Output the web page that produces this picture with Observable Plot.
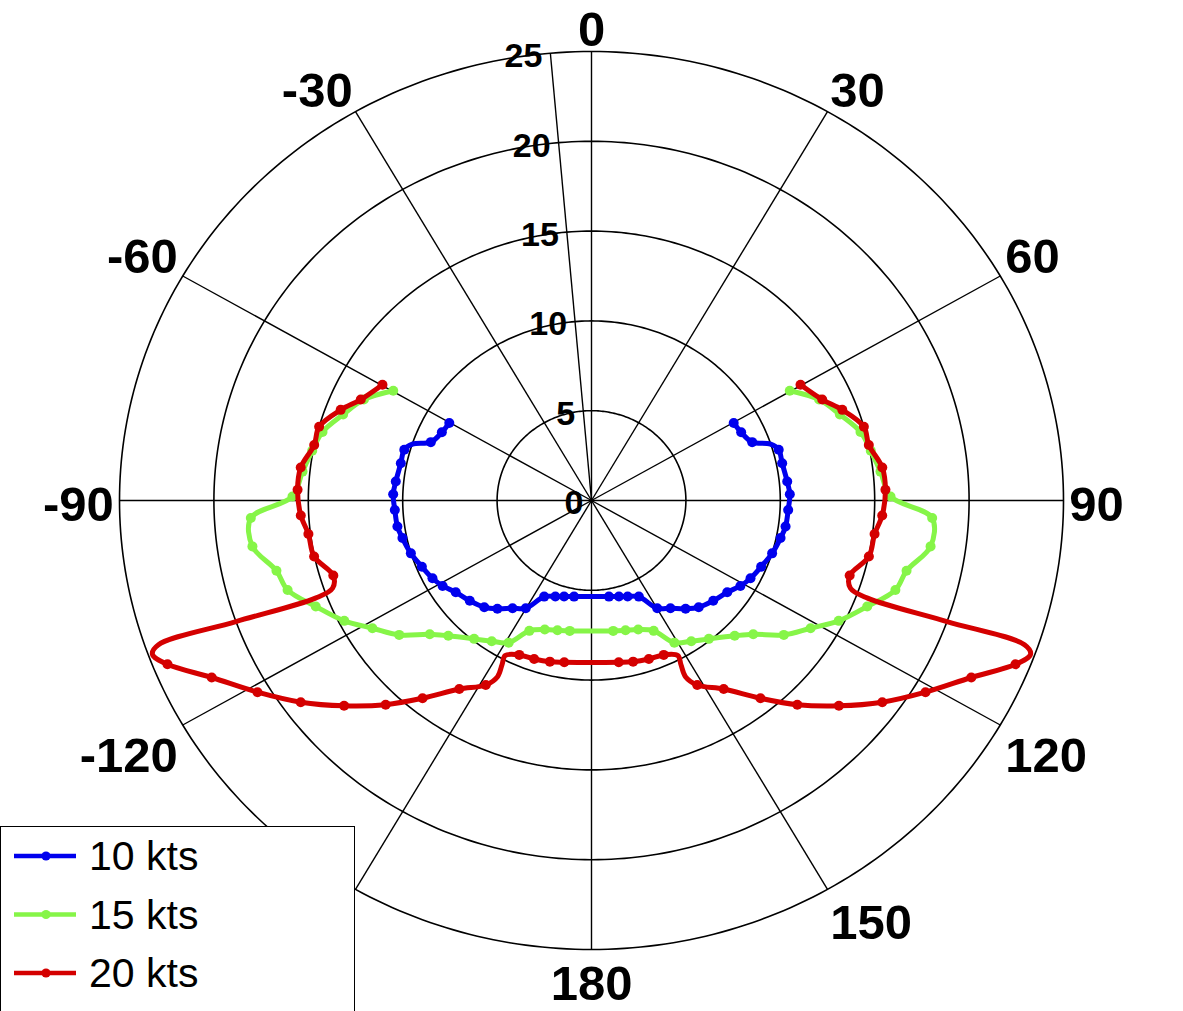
<!DOCTYPE html>
<html>
<head>
<meta charset="utf-8">
<script src="https://cdn.jsdelivr.net/npm/d3@7"></script>
<script src="https://cdn.jsdelivr.net/npm/@observablehq/plot@0.6"></script>
<style>
  html, body { margin: 0; padding: 0; background: #fff; overflow: hidden; }
  #wrap { position: relative; width: 1183px; height: 1011px; }
  #legend { position: absolute; left: 0; top: 826px; width: 355px; height: 200px;
            border: 1.4px solid #000; background: #fff; box-sizing: border-box; }
</style>
</head>
<body>
<div id="wrap"><div id="chart"></div><div id="legend"></div></div>
<script>
// ---- data: [angle (deg), boat speed (kts), marker 1/0] ----
const angleTicks = [0, 30, 60, 90, 120, 150, 180, -150, -120, -90, -60, -30];
const ringTicks = [0, 5, 10, 15, 20, 25];
const seriesNames = ["10 kts", "15 kts", "20 kts"];

const tws10Starboard = [
  [60.2,8.68,1],[64.4,8.79,1],[69.1,9.11,1],[71.7,9.99,0],[74.1,10.31,1],[78.4,10.31,1],
  [84.2,10.42,1],[88.1,10.51,1],[92.9,10.43,1],[98.0,10.38,1],[101.8,10.23,1],[107.1,10.01,1],
  [112.3,9.71,1],[117.2,9.47,1],[121.1,9.21,1],[125.4,8.82,1],[130.9,8.53,1],[136.3,8.22,1],
  [140.4,7.82,1],[145.1,7.31,1],[149.9,6.94,1],[154.9,5.91,1],[160.3,5.68,1],[164.8,5.54,1],
  [170.2,5.43,1]
];
const tws10Port = [
  [-60.2,8.68,1],[-64.4,8.79,1],[-69.1,9.11,1],[-71.7,9.99,0],[-74.1,10.31,1],[-78.4,10.31,1],
  [-84.2,10.42,1],[-88.1,10.51,1],[-92.9,10.43,1],[-98.0,10.38,1],[-101.8,10.23,1],[-107.1,10.01,1],
  [-112.3,9.71,1],[-117.2,9.47,1],[-121.1,9.21,1],[-125.4,8.82,1],[-130.9,8.53,1],[-136.3,8.22,1],
  [-140.4,7.82,1],[-145.1,7.31,1],[-149.9,6.94,1],[-154.9,5.91,1],[-160.3,5.68,1],[-164.8,5.54,1],
  [-170.2,5.43,1]
];

const tws15Starboard = [
  [59.8,12.15,1],[65.0,13.3,1],[70.0,14.0,1],[75.0,14.75,1],[79.4,15.05,1],[84.0,15.39,1],
  [89.2,15.84,1],[93.1,18.07,1],[98.1,18.14,1],[103.2,17.14,1],[107.2,16.85,1],[112.0,15.75,1],
  [117.1,14.71,1],[121.5,13.61,1],[126.3,12.64,1],[131.0,11.35,1],[134.8,10.69,1],[141.1,9.9,1],
  [146.0,9.45,1],[151.0,9.05,1],[155.6,7.97,1],[161.0,7.60,1],[166.0,7.45,1],[171.0,7.35,1]
];
const tws15Port = [
  [-59.8,12.15,1],[-65.0,13.3,1],[-70.0,14.0,1],[-75.0,14.75,1],[-79.4,15.05,1],[-84.0,15.39,1],
  [-89.2,15.84,1],[-93.1,18.07,1],[-98.1,18.14,1],[-103.2,17.14,1],[-107.2,16.85,1],[-112.0,15.75,1],
  [-117.1,14.71,1],[-121.5,13.61,1],[-126.3,12.64,1],[-131.0,11.35,1],[-134.8,10.69,1],[-141.1,9.9,1],
  [-146.0,9.45,1],[-151.0,9.05,1],[-155.6,7.97,1],[-161.0,7.60,1],[-166.0,7.45,1],[-171.0,7.35,1]
];

const tws20Starboard = [
  [59.8,12.81,1],[65.3,13.45,1],[69.2,14.21,1],[74.1,15.0,1],[78.1,15.01,1],[83.2,15.51,1],
  [87.8,15.58,1],[93.1,15.42,1],[97.1,15.11,1],[102.0,15.02,1],[107.0,14.30,1],
  [109.6,14.56,0],[110.4,15.6,0],[109.7,20.0,0],[109.3,24.3,0],[110.2,24.78,0],
  [112.1,24.24,1],[116.1,22.40,1],[121.1,20.66,1],[126.1,19.06,1],[131.1,17.39,1],
  [136.2,15.75,1],[140.9,14.19,1],[146.3,12.62,1],[151.4,11.70,1],
  [153.1,11.0,0],[152.6,10.3,0],[152.1,9.77,0],
  [156.0,9.41,1],[161.0,9.33,1],[166.2,9.24,1],[170.9,9.12,1]
];
const tws20Port = [
  [-59.8,12.81,1],[-65.3,13.45,1],[-69.2,14.21,1],[-74.1,15.0,1],[-78.1,15.01,1],[-83.2,15.51,1],
  [-87.8,15.58,1],[-93.1,15.42,1],[-97.1,15.11,1],[-102.0,15.02,1],[-107.0,14.30,1],
  [-109.6,14.56,0],[-110.4,15.6,0],[-109.7,20.0,0],[-109.3,24.3,0],[-110.2,24.78,0],
  [-112.1,24.24,1],[-116.1,22.40,1],[-121.1,20.66,1],[-126.1,19.06,1],[-131.1,17.39,1],
  [-136.2,15.75,1],[-140.9,14.19,1],[-146.3,12.62,1],[-151.4,11.70,1],
  [-153.1,11.0,0],[-152.6,10.3,0],[-152.1,9.77,0],
  [-156.0,9.41,1],[-161.0,9.33,1],[-166.2,9.24,1],[-170.9,9.12,1]
];

// ---- styling ----
const colors = ["#0000ee", "#86f548", "#d40000"];
const rad = Math.PI / 180;
const rMax = 25;
const labelRadius = 25.3;
const labelSpokeAngle = -5;
const font = "Liberation Sans, Arial, sans-serif";

const toRows = (arr, name) => arr.map(([angle, speed, marker]) => ({angle, speed, marker, name}));
const seriesRows = [
  toRows(tws10Port, seriesNames[0]).concat(toRows(tws10Starboard, seriesNames[0]).reverse()),
  toRows(tws15Port, seriesNames[1]).concat(toRows(tws15Starboard, seriesNames[1]).reverse()),
  toRows(tws20Port, seriesNames[2]).concat(toRows(tws20Starboard, seriesNames[2]).reverse())
];
const px = d => d.speed * Math.sin(d.angle * rad);
const py = d => d.speed * Math.cos(d.angle * rad);

const ringRows = ringTicks.filter(r => r > 0).flatMap(r =>
  d3.range(0, 361, 1).map(t => ({r, t})));

const spokes = d3.range(-150, 181, 30);

const marks = [
  Plot.line(ringRows, {x: d => d.r * Math.sin(d.t * rad), y: d => d.r * Math.cos(d.t * rad), z: "r",
    stroke: "#000", strokeWidth: 1.6}),
  Plot.link(spokes, {x1: 0, y1: 0, x2: a => rMax * Math.sin(a * rad), y2: a => rMax * Math.cos(a * rad),
    stroke: "#000", strokeWidth: 1.4}),
  Plot.link([labelSpokeAngle], {x1: 0, y1: 0, x2: a => rMax * Math.sin(a * rad), y2: a => rMax * Math.cos(a * rad),
    stroke: "#000", strokeWidth: 1.4}),
  Plot.text(ringTicks, {x: r => r * Math.sin(labelSpokeAngle * rad), y: r => r * Math.cos(labelSpokeAngle * rad),
    text: r => String(r), textAnchor: "end", dx: -8, dy: 3, fontSize: 34, fontWeight: "bold",
    fontFamily: font, fill: "#000"})
];

// angle labels: aligned away from the circle, as in the reference
const side = v => (v > 0.01 ? 1 : v < -0.01 ? -1 : 0);
angleTicks.forEach(a => {
  const sx = side(Math.sin(a * rad)), sy = side(Math.cos(a * rad));
  marks.push(Plot.text([a], {
    x: d => labelRadius * Math.sin(d * rad), y: d => labelRadius * Math.cos(d * rad),
    text: d => String(d),
    textAnchor: sx > 0 ? "start" : sx < 0 ? "end" : "middle",
    lineAnchor: sy > 0 ? "bottom" : sy < 0 ? "top" : "middle",
    dy: sy > 0 ? 0 : sy < 0 ? 10 : 5,
    fontSize: 49, fontWeight: "bold", fontFamily: font, fill: "#000"
  }));
});

seriesRows.forEach((rows, i) => {
  marks.push(Plot.line(rows, {x: px, y: py, stroke: colors[i], strokeWidth: 5, curve: "catmull-rom"}));
  marks.push(Plot.dot(rows.filter(d => d.marker), {x: px, y: py, r: 5, fill: colors[i], stroke: "none"}));
});

const chart = Plot.plot({
  width: 1183, height: 1011,
  marginLeft: 119, marginRight: 120, marginTop: 51, marginBottom: 62,
  x: {domain: [-rMax, rMax], axis: null},
  y: {domain: [-rMax, rMax], axis: null},
  style: {background: "#fff", overflow: "visible"},
  marks
});
document.getElementById("chart").appendChild(chart);

// ---- legend ----
const ns = "http://www.w3.org/2000/svg";
const lg = document.createElementNS(ns, "svg");
lg.setAttribute("width", 352); lg.setAttribute("height", 198);
seriesNames.forEach((name, i) => {
  const cy = 29 + i * 58.5;
  const line = document.createElementNS(ns, "line");
  line.setAttribute("x1", 13); line.setAttribute("x2", 75);
  line.setAttribute("y1", cy); line.setAttribute("y2", cy);
  line.setAttribute("stroke", colors[i]); line.setAttribute("stroke-width", 4.5);
  lg.appendChild(line);
  const c = document.createElementNS(ns, "circle");
  c.setAttribute("cx", 45); c.setAttribute("cy", cy); c.setAttribute("r", 4.6);
  c.setAttribute("fill", colors[i]);
  lg.appendChild(c);
  const t = document.createElementNS(ns, "text");
  t.setAttribute("x", 88); t.setAttribute("y", cy + 14);
  t.setAttribute("font-size", 41);
  t.setAttribute("font-family", font);
  t.textContent = name;
  lg.appendChild(t);
});
document.getElementById("legend").appendChild(lg);
</script>
</body>
</html>
